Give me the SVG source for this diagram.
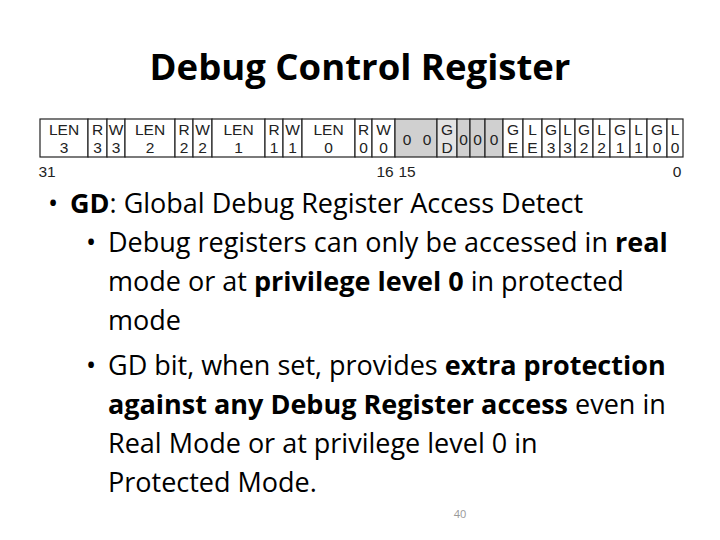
<svg xmlns="http://www.w3.org/2000/svg" width="720" height="540" viewBox="0 0 720 540">
<style>
.c{fill:#fff;stroke:#222;stroke-width:1.2}
.g{fill:#d0d0d0;stroke:#222;stroke-width:1.2}
.lg{fill:#e4e4e4;stroke:#222;stroke-width:1.2}
.t{font-family:"Liberation Sans",Arial,sans-serif;font-size:15.5px;fill:#222;text-anchor:middle}
.b{font-family:"Open Sans","Liberation Sans",sans-serif;font-size:27px;fill:#000}
.bb{font-weight:bold}
</style>
<rect width="720" height="540" fill="#fff"/>
<text x="360" y="80" text-anchor="middle" font-family="'Open Sans','Liberation Sans',sans-serif" font-weight="bold" font-size="36.5">Debug Control Register</text>
<g id="register">
<rect class="c" x="40" y="119" width="48" height="38"/><text class="t" x="64" y="135">LEN</text><text class="t" x="64" y="153">3</text>
<rect class="c" x="88" y="119" width="19" height="38"/><text class="t" x="97.5" y="135">R</text><text class="t" x="97.5" y="153">3</text>
<rect class="c" x="107" y="119" width="18" height="38"/><text class="t" x="116" y="135">W</text><text class="t" x="116" y="153">3</text>
<rect class="c" x="125" y="119" width="50" height="38"/><text class="t" x="150" y="135">LEN</text><text class="t" x="150" y="153">2</text>
<rect class="c" x="175" y="119" width="18" height="38"/><text class="t" x="184" y="135">R</text><text class="t" x="184" y="153">2</text>
<rect class="c" x="193" y="119" width="19" height="38"/><text class="t" x="202.5" y="135">W</text><text class="t" x="202.5" y="153">2</text>
<rect class="c" x="212" y="119" width="53" height="38"/><text class="t" x="238.5" y="135">LEN</text><text class="t" x="238.5" y="153">1</text>
<rect class="c" x="265" y="119" width="18" height="38"/><text class="t" x="274" y="135">R</text><text class="t" x="274" y="153">1</text>
<rect class="c" x="283" y="119" width="19" height="38"/><text class="t" x="292.5" y="135">W</text><text class="t" x="292.5" y="153">1</text>
<rect class="c" x="302" y="119" width="53" height="38"/><text class="t" x="328.5" y="135">LEN</text><text class="t" x="328.5" y="153">0</text>
<rect class="c" x="355" y="119" width="17" height="38"/><text class="t" x="363.5" y="135">R</text><text class="t" x="363.5" y="153">0</text>
<rect class="c" x="372" y="119" width="23" height="38"/><text class="t" x="383.5" y="135">W</text><text class="t" x="383.5" y="153">0</text>
<rect class="g" x="395" y="119" width="42" height="38"/><text class="t" x="407" y="145">0</text><text class="t" x="427" y="145">0</text>
<rect class="lg" x="437" y="119" width="20" height="38"/><text class="t" x="447" y="135">G</text><text class="t" x="447" y="153">D</text>
<rect class="g" x="457" y="119" width="13" height="38"/><text class="t" x="463.5" y="145">0</text>
<rect class="g" x="470" y="119" width="15" height="38"/><text class="t" x="477.5" y="145">0</text>
<rect class="g" x="485" y="119" width="18" height="38"/><text class="t" x="494" y="145">0</text>
<rect class="c" x="503" y="119" width="20" height="38"/><text class="t" x="513" y="135">G</text><text class="t" x="513" y="153">E</text>
<rect class="c" x="523" y="119" width="19" height="38"/><text class="t" x="532.5" y="135" fill="#a08040">L</text><text class="t" x="532.5" y="153">E</text>
<rect class="c" x="542" y="119" width="18" height="38"/><text class="t" x="551" y="135">G</text><text class="t" x="551" y="153">3</text>
<rect class="c" x="560" y="119" width="15" height="38"/><text class="t" x="567.5" y="135">L</text><text class="t" x="567.5" y="153">3</text>
<rect class="c" x="575" y="119" width="18" height="38"/><text class="t" x="584" y="135">G</text><text class="t" x="584" y="153">2</text>
<rect class="c" x="593" y="119" width="17" height="38"/><text class="t" x="601.5" y="135">L</text><text class="t" x="601.5" y="153">2</text>
<rect class="c" x="610" y="119" width="20" height="38"/><text class="t" x="620" y="135">G</text><text class="t" x="620" y="153">1</text>
<rect class="c" x="630" y="119" width="17" height="38"/><text class="t" x="638.5" y="135" fill="#a08040">L</text><text class="t" x="638.5" y="153">1</text>
<rect class="c" x="647" y="119" width="20" height="38"/><text class="t" x="657" y="135">G</text><text class="t" x="657" y="153">0</text>
<rect class="c" x="667" y="119" width="16" height="38"/><text class="t" x="675" y="135">L</text><text class="t" x="675" y="153">0</text>
<text class="t" x="47" y="177">31</text>
<text class="t" x="385" y="177">16</text>
<text class="t" x="407" y="177">15</text>
<text class="t" x="677" y="177">0</text>
</g>
<g class="b">
<text x="48" y="213">•</text>
<text x="70" y="213"><tspan class="bb">GD</tspan>: Global Debug Register Access Detect</text>
<text x="86" y="252">•</text>
<text x="108" y="252">Debug registers can only be accessed in <tspan class="bb">real</tspan></text>
<text x="108" y="291">mode or at <tspan class="bb">privilege level 0</tspan> in protected</text>
<text x="108" y="330">mode</text>
<text x="86" y="375">•</text>
<text x="108" y="375">GD bit, when set, provides <tspan class="bb">extra protection</tspan></text>
<text x="108" y="414"><tspan class="bb">against any Debug Register access</tspan> even in</text>
<text x="108" y="453">Real Mode or at privilege level 0 in</text>
<text x="108" y="492">Protected Mode.</text>
</g>
<text x="460" y="518" text-anchor="middle" font-family="'Open Sans','Liberation Sans',sans-serif" font-size="11" fill="#999">40</text>
</svg>
